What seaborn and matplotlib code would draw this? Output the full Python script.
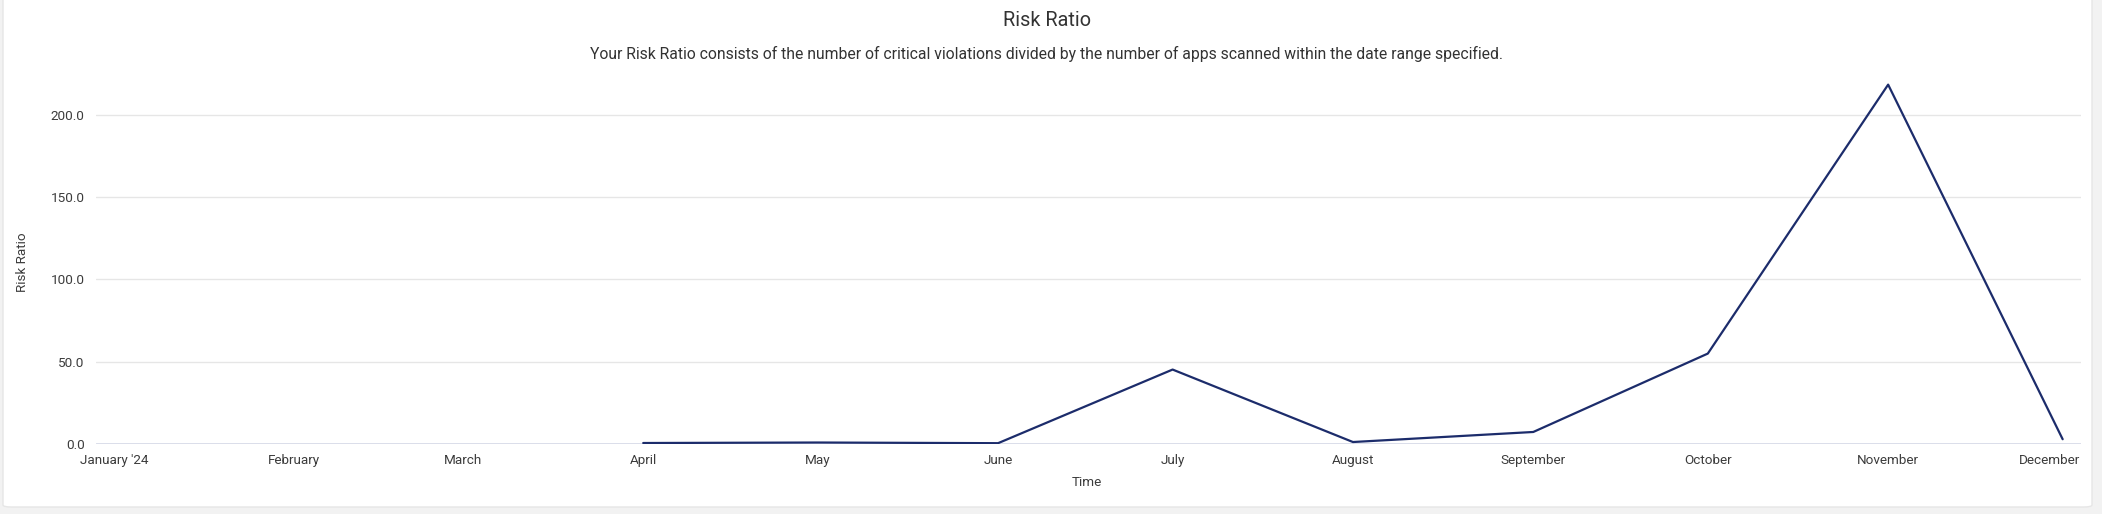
import matplotlib
matplotlib.use("Agg")
import matplotlib.pyplot as plt
from matplotlib.patches import FancyBboxPatch
from matplotlib.transforms import ScaledTranslation
import seaborn as sns
import pandas as pd

# ---- data ----
months = ["2024-04-01", "2024-05-01", "2024-06-01", "2024-07-01", "2024-08-01",
          "2024-09-01", "2024-10-01", "2024-11-01", "2024-12-01"]
risk_ratio = [0.6, 0.9, 0.5, 45.2, 1.2, 7.3, 54.9, 218.2, 2.9]
tick_dates = ["2024-01-01", "2024-02-01", "2024-03-01", "2024-04-01", "2024-05-01",
              "2024-06-01", "2024-07-01", "2024-08-01", "2024-09-01", "2024-10-01",
              "2024-11-01", "2024-12-01"]
tick_labels = ["January '24", "February", "March", "April", "May", "June", "July",
               "August", "September", "October", "November", "December"]
y_ticks = [0, 50, 100, 150, 200]

sns.set_theme(style="white")
plt.rcParams['font.family'] = ['Roboto', 'DejaVu Sans']

W, H = 2102, 514
fig = plt.figure(figsize=(W / 100, H / 100), dpi=100)
fig.patch.set_facecolor("#f2f2f2")

# card background
card = FancyBboxPatch((3 / W, 7 / H), (2092 - 3) / W, (H - 7 + 20) / H,
                      boxstyle="round,pad=0,rounding_size=0.004",
                      transform=fig.transFigure, facecolor="white",
                      edgecolor="#e6e6e6", linewidth=1, zorder=-10)
fig.patches.append(card)

left_px, right_px = 95.8, 2080.7
bottom_px = 444.0
px_per_unit = 1.647
ymax = 225
top_px = bottom_px - ymax * px_per_unit
ax = fig.add_axes([left_px / W, (H - bottom_px) / H,
                   (right_px - left_px) / W, (bottom_px - top_px) / H])
ax.set_facecolor("none")

df = pd.DataFrame({"Time": pd.to_datetime(months), "Risk Ratio": risk_ratio})
sns.lineplot(data=df, x="Time", y="Risk Ratio", ax=ax, color="#1c2c6b",
             linewidth=1.6, zorder=3)

pad = pd.Timedelta(days=3.1)
ax.set_xlim(pd.Timestamp("2024-01-01") - pad, pd.Timestamp("2024-12-01") + pad)
ax.set_ylim(0, ymax)

ax.set_xticks(pd.to_datetime(tick_dates))
ax.set_xticklabels(tick_labels)
ax.set_yticks(y_ticks)
ax.set_yticklabels([f"{v:.1f}" for v in y_ticks])

ax.tick_params(axis="both", length=0, labelsize=9.7, colors="#3c3c3c")
ax.tick_params(axis="x", pad=7)
ax.tick_params(axis="y", pad=8)

# keep the last label inside the plot area, as in the reference
last = ax.get_xticklabels()[-1]
last.set_transform(last.get_transform() + ScaledTranslation(-13 / 100, 0, fig.dpi_scale_trans))

for v in y_ticks[1:]:
    ax.axhline(v, color="#e6e6e6", linewidth=1, zorder=1)
ax.axhline(0, color="#d7dbe8", linewidth=2, zorder=2)

for s in ax.spines.values():
    s.set_visible(False)

ax.set_xlabel("Time", fontsize=9.7, color="#3c3c3c")
ax.set_ylabel("Risk Ratio", fontsize=9.7, color="#3c3c3c")
ax.xaxis.set_label_coords(0.4995, (bottom_px - 482) / (bottom_px - top_px))
ax.yaxis.set_label_coords((23 - left_px) / (right_px - left_px),
                          (bottom_px - 262.3) / (bottom_px - top_px))
ax.xaxis.label.set_verticalalignment("center")
ax.yaxis.label.set_verticalalignment("center")

fig.text(1047 / W, 1 - 20 / H, "Risk Ratio", ha="center", va="center",
         fontsize=14.3, color="#333333")
fig.text(1047 / W, 1 - 54 / H,
         "Your Risk Ratio consists of the number of critical violations divided by the number of apps scanned within the date range specified.",
         ha="center", va="center", fontsize=11.3, color="#333333")

fig.savefig("out.png", dpi=100, facecolor=fig.get_facecolor())
